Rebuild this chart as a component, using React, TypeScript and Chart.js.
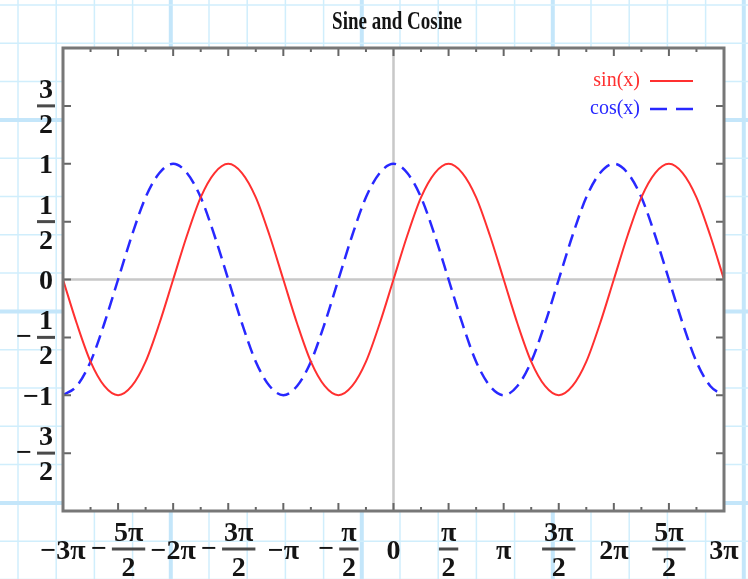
import React, { useEffect, useRef } from 'react';
import { Chart, registerables } from 'chart.js';

Chart.register(...registerables);

const titleText = 'Sine and Cosine';
const seriesLabels = ['sin(x)', 'cos(x)'];
const seriesColors = ['rgb(255,48,48)', 'rgb(40,40,255)'];

// x positions (radians), sampled every pi/8 from -3pi to 3pi
const xValues = [
  -9.425, -9.032, -8.639, -8.247, -7.854, -7.461, -7.069, -6.676,
  -6.283, -5.890, -5.498, -5.105, -4.712, -4.320, -3.927, -3.534,
  -3.142, -2.749, -2.356, -1.963, -1.571, -1.178, -0.785, -0.393,
  0, 0.393, 0.785, 1.178, 1.571, 1.963, 2.356, 2.749,
  3.142, 3.534, 3.927, 4.320, 4.712, 5.105, 5.498, 5.890,
  6.283, 6.676, 7.069, 7.461, 7.854, 8.247, 8.639, 9.032,
  9.425,
];

const sinValues = [
  0, -0.38, -0.71, -0.92, -1, -0.92, -0.71, -0.38,
  0, 0.38, 0.71, 0.92, 1, 0.92, 0.71, 0.38,
  0, -0.38, -0.71, -0.92, -1, -0.92, -0.71, -0.38,
  0, 0.38, 0.71, 0.92, 1, 0.92, 0.71, 0.38,
  0, -0.38, -0.71, -0.92, -1, -0.92, -0.71, -0.38,
  0, 0.38, 0.71, 0.92, 1, 0.92, 0.71, 0.38,
  0,
];

const cosValues = [
  -1, -0.92, -0.71, -0.38, 0, 0.38, 0.71, 0.92,
  1, 0.92, 0.71, 0.38, 0, -0.38, -0.71, -0.92,
  -1, -0.92, -0.71, -0.38, 0, 0.38, 0.71, 0.92,
  1, 0.92, 0.71, 0.38, 0, -0.38, -0.71, -0.92,
  -1, -0.92, -0.71, -0.38, 0, 0.38, 0.71, 0.92,
  1, 0.92, 0.71, 0.38, 0, -0.38, -0.71, -0.92,
  -1,
];

const xTickValues = [
  -9.4248, -7.854, -6.2832, -4.7124, -3.1416, -1.5708, 0,
  1.5708, 3.1416, 4.7124, 6.2832, 7.854, 9.4248,
];
const xTickLabels = [
  '−3π', '−5π/2', '−2π', '−3π/2', '−π', '−π/2', '0',
  'π/2', 'π', '3π/2', '2π', '5π/2', '3π',
];
const yTickValues = [-1.5, -1, -0.5, 0, 0.5, 1, 1.5];
const yTickLabels = ['−3/2', '−1', '−1/2', '0', '1/2', '1', '3/2'];
const yMin = -2;
const yMax = 2;

const FONT = '"Liberation Serif", "Times New Roman", serif';
const LABEL_FONT = `bold 28px ${FONT}`;
const TEXT_COLOR = '#141414';

function drawMathLabel(
  ctx: CanvasRenderingContext2D,
  label: string,
  anchorX: number,
  centerY: number,
  align: 'center' | 'right'
) {
  ctx.save();
  ctx.font = LABEL_FONT;
  ctx.fillStyle = TEXT_COLOR;
  ctx.textAlign = 'left';
  ctx.textBaseline = 'alphabetic';
  const neg = label.startsWith('−');
  const body = neg ? label.slice(1) : label;
  const parts = body.split('/');
  if (parts.length === 1) {
    const w = ctx.measureText(label).width;
    const left = align === 'center' ? anchorX - w / 2 : anchorX - 2 - w;
    ctx.fillText(label, left, centerY + 9.5);
    ctx.restore();
    return;
  }
  const [num, den] = parts;
  const minusW = ctx.measureText('−').width;
  const gap = 5;
  const wn = ctx.measureText(num).width;
  const wd = ctx.measureText(den).width;
  const barW = Math.max(wn, wd) + 4;
  const total = (neg ? minusW + gap : 0) + barW;
  let left = align === 'center' ? anchorX - total / 2 : anchorX - total;
  if (neg) {
    ctx.fillText('−', left, centerY + 8);
    left += minusW + gap;
  }
  ctx.fillStyle = '#4a4a4a';
  ctx.fillRect(left, centerY - 1.5, barW, 3);
  ctx.fillStyle = TEXT_COLOR;
  ctx.fillText(num, left + (barW - wn) / 2, centerY - 8);
  ctx.fillText(den, left + (barW - wd) / 2, centerY + 27);
  ctx.restore();
}

const paperPlugin = {
  id: 'paper',
  beforeDraw(chart: any) {
    const { ctx, width, height, chartArea } = chart;
    ctx.save();
    ctx.fillStyle = '#ffffff';
    ctx.fillRect(0, 0, width, height);
    // graph paper
    for (let k = 0; ; k++) {
      const x = 18 + 38.2 * k;
      if (x > width + 5) break;
      const thick = k % 5 === 4;
      ctx.strokeStyle = thick ? '#c4e6fa' : '#d0eefc';
      ctx.lineWidth = thick ? 4 : 1.5;
      ctx.beginPath();
      ctx.moveTo(x, 0);
      ctx.lineTo(x, height);
      ctx.stroke();
    }
    for (let k = 0; ; k++) {
      const y = 5 + 38.3 * k;
      if (y > height + 5) break;
      const thick = k % 5 === 3;
      ctx.strokeStyle = thick ? '#c4e6fa' : '#d0eefc';
      ctx.lineWidth = thick ? 4 : 1.5;
      ctx.beginPath();
      ctx.moveTo(0, y);
      ctx.lineTo(width, y);
      ctx.stroke();
    }
    ctx.fillStyle = '#ffffff';
    ctx.fillRect(chartArea.left, chartArea.top, chartArea.right - chartArea.left, chartArea.bottom - chartArea.top);
    ctx.restore();
  },
  beforeDatasetsDraw(chart: any) {
    const { ctx, chartArea, scales } = chart;
    const x0 = scales.x.getPixelForValue(0);
    const y0 = scales.y.getPixelForValue(0);
    ctx.save();
    ctx.strokeStyle = '#c8c8c8';
    ctx.lineWidth = 2.5;
    ctx.beginPath();
    ctx.moveTo(chartArea.left, y0);
    ctx.lineTo(chartArea.right, y0);
    ctx.moveTo(x0, chartArea.top);
    ctx.lineTo(x0, chartArea.bottom);
    ctx.stroke();
    ctx.restore();
  },
  afterDatasetsDraw(chart: any) {
    const { ctx, chartArea, scales } = chart;
    const { left, right, top, bottom } = chartArea;
    ctx.save();
    // ticks
    ctx.strokeStyle = '#666666';
    ctx.lineWidth = 2;
    ctx.beginPath();
    xTickValues.forEach((v, i) => {
      const px = scales.x.getPixelForValue(v);
      ctx.moveTo(px, bottom);
      ctx.lineTo(px, bottom - 8);
      ctx.moveTo(px, top);
      ctx.lineTo(px, top + 8);
      if (i < xTickValues.length - 1) {
        const mid = scales.x.getPixelForValue((v + xTickValues[i + 1]) / 2);
        ctx.moveTo(mid, bottom);
        ctx.lineTo(mid, bottom - 4);
        ctx.moveTo(mid, top);
        ctx.lineTo(mid, top + 4);
      }
    });
    yTickValues.forEach((v) => {
      const py = scales.y.getPixelForValue(v);
      ctx.moveTo(left, py);
      ctx.lineTo(left + 8, py);
      ctx.moveTo(right, py);
      ctx.lineTo(right - 8, py);
    });
    ctx.stroke();
    // frame
    ctx.strokeStyle = '#777777';
    ctx.lineWidth = 3;
    ctx.strokeRect(left, top, right - left, bottom - top);
    ctx.restore();
  },
  afterDraw(chart: any) {
    const { ctx, chartArea, scales } = chart;
    // tick labels
    xTickValues.forEach((v, i) => {
      drawMathLabel(ctx, xTickLabels[i], scales.x.getPixelForValue(v), chartArea.bottom + 38, 'center');
    });
    yTickValues.forEach((v, i) => {
      drawMathLabel(ctx, yTickLabels[i], chartArea.left - 8, scales.y.getPixelForValue(v), 'right');
    });
    // title
    ctx.save();
    ctx.font = `bold 19px ${FONT}`;
    ctx.fillStyle = TEXT_COLOR;
    ctx.textAlign = 'center';
    ctx.textBaseline = 'middle';
    ctx.translate(397, 22);
    ctx.scale(1, 1.35);
    ctx.fillText(titleText, 0, 0);
    ctx.restore();
    // legend
    ctx.save();
    ctx.font = `20px ${FONT}`;
    ctx.textAlign = 'right';
    ctx.textBaseline = 'middle';
    chart.data.datasets.forEach((ds: any, i: number) => {
      const y = chartArea.top + 33 + i * 28;
      ctx.fillStyle = ds.borderColor;
      ctx.fillText(ds.label, chartArea.right - 84, y);
      ctx.strokeStyle = ds.borderColor;
      ctx.lineWidth = ds.borderWidth;
      ctx.setLineDash(ds.borderDash ? [17, 9] : []);
      ctx.beginPath();
      ctx.moveTo(chartArea.right - 74, y);
      ctx.lineTo(chartArea.right - 31, y);
      ctx.stroke();
    });
    ctx.restore();
  },
};

export default function App() {
  const canvasRef = useRef<HTMLCanvasElement | null>(null);

  useEffect(() => {
    if (!canvasRef.current) return;
    const chart = new Chart(canvasRef.current, {
      type: 'line',
      data: {
        datasets: [
          {
            label: seriesLabels[0],
            data: xValues.map((x, i) => ({ x, y: sinValues[i] })),
            borderColor: seriesColors[0],
            borderWidth: 2,
            pointRadius: 0,
            fill: false,
            cubicInterpolationMode: 'monotone',
          },
          {
            label: seriesLabels[1],
            data: xValues.map((x, i) => ({ x, y: cosValues[i] })),
            borderColor: seriesColors[1],
            borderWidth: 2.5,
            borderDash: [13, 7],
            pointRadius: 0,
            fill: false,
            cubicInterpolationMode: 'monotone',
          },
        ],
      },
      options: {
        responsive: false,
        animation: false,
        layout: { padding: { left: 63, right: 24, top: 48, bottom: 68 } },
        plugins: {
          legend: { display: false },
          title: { display: false },
          tooltip: { enabled: false },
        },
        events: [],
        scales: {
          x: {
            type: 'linear',
            min: xTickValues[0],
            max: xTickValues[xTickValues.length - 1],
            display: false,
          },
          y: { type: 'linear', min: yMin, max: yMax, display: false },
        },
      } as any,
      plugins: [paperPlugin],
    });
    return () => chart.destroy();
  }, []);

  return (
    <div style={{ position: 'fixed', left: 0, top: 0, width: 748, height: 579 }}>
      <canvas ref={canvasRef} width={748} height={579} style={{ display: 'block' }} />
    </div>
  );
}
